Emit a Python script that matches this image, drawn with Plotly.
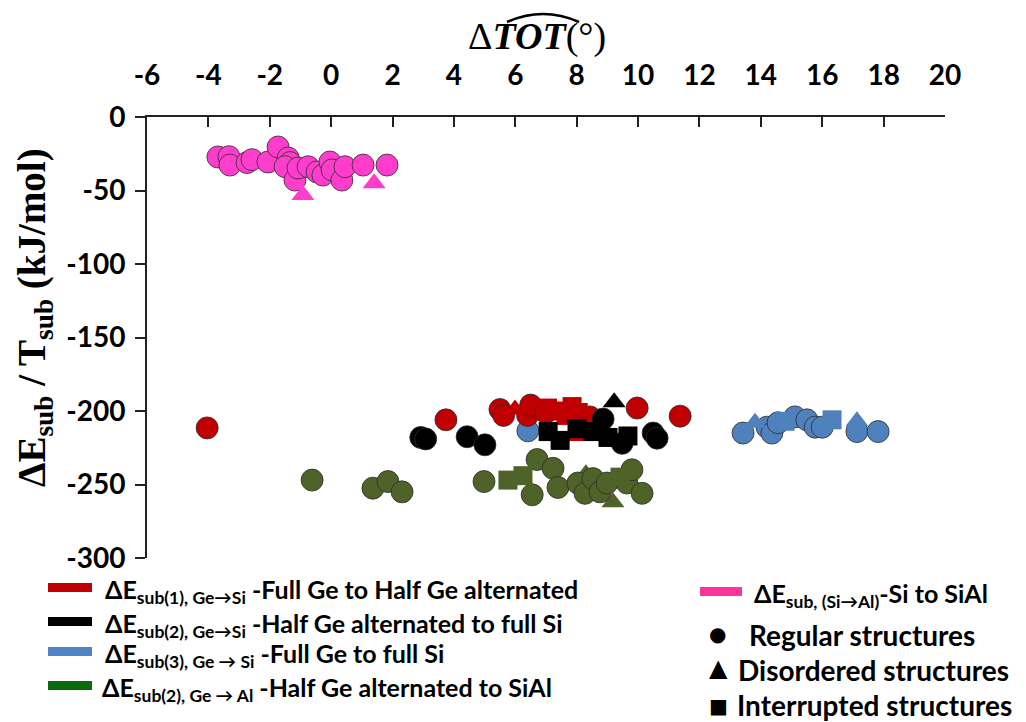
import plotly.graph_objects as go

# ---------------- data ----------------
x_ticks = [-6, -4, -2, 0, 2, 4, 6, 8, 10, 12, 14, 16, 18, 20]
y_ticks = [0, -50, -100, -150, -200, -250, -300]

# Full Ge -> Half Ge alternated (red)
red_circle_x = [-4.04, 3.74, 5.50, 5.62, 6.40, 6.50, 7.00, 8.43, 9.97, 11.37]
red_circle_y = [-211.5, -206, -199, -203, -203, -196, -201, -204, -198, -203.5]
red_square_x = [7.05, 7.40, 7.85, 7.65, 8.05]
red_square_y = [-198, -200, -197, -203, -201]
red_tri_x = [5.99, 7.95]
red_tri_y = [-199, -217]

# Half Ge alternated -> full Si (black)
blk_circle_x = [2.92, 3.08, 4.43, 5.01, 8.86, 9.48, 10.49, 10.62]
blk_circle_y = [-218, -219, -217.5, -223, -205.5, -222, -215, -218.5]
blk_square_x = [7.07, 7.46, 8.01, 8.53, 9.02, 9.67]
blk_square_y = [-214, -220, -212, -214, -218, -217]
blk_tri_x = [9.22]
blk_tri_y = [-194]

# Full Ge -> full Si (blue)
blu_circle_x = [6.41, 13.42, 14.20, 14.36, 14.56, 15.11, 15.50, 15.77, 16.00, 17.13, 17.82]
blu_circle_y = [-213.5, -215, -211, -215, -208, -204, -206, -211, -211, -214, -214]
blu_square_x = [14.79, 16.32]
blu_square_y = [-207, -206]
blu_tri_x = [13.81, 17.13]
blu_tri_y = [-208, -207]

# Half Ge alternated -> SiAl (green)
grn_circle_x = [-0.62, 1.36, 1.85, 2.31, 4.98, 6.55, 6.71, 7.23, 7.39, 8.04, 8.27,
                8.53, 8.76, 8.99, 9.64, 9.80, 10.13]
grn_circle_y = [-247, -252.5, -248, -255, -248, -257, -233, -239, -252, -249, -256,
                -246, -255, -249, -249, -240, -256]
grn_square_x = [5.76, 6.25, 9.41]
grn_square_y = [-247, -244, -245]
grn_tri_x = [8.30, 9.18]
grn_tri_y = [-243, -262]

# Si -> SiAl (pink)
pnk_circle_x = [-3.69, -3.33, -3.30, -2.74, -2.58, -2.06, -1.73, -1.40, -1.34, -1.50,
                -1.18, -1.08, -0.75, -0.46, -0.27, -0.04, 0.03, 0.35, 0.45, 1.04, 1.82]
pnk_circle_y = [-27.2, -27, -32.7, -31, -29, -30.6, -20.4, -27.9, -31, -33.8,
                -42.9, -34.7, -33.8, -37.4, -39.5, -30.6, -36, -42.9, -33.8, -32.7, -32.7]
pnk_tri_x = [-0.92, 1.40]
pnk_tri_y = [-53, -45]

# ---------------- styles ----------------
RED = "#C00000"
BLACK = "#000000"
BLUE = "#4F81BD"
GREEN = "#4F6228"
PINK = "#FF3DCC"

FIG_W, FIG_H = 1026, 722
L, R, T, B = 147, 81, 117, 164
PW, PH = FIG_W - L - R, FIG_H - T - B


def px(x):
    return (x - L) / PW


def py(y):
    return (FIG_H - B - y) / PH


fig = go.Figure()


def add(xs, ys, color, symbol, size, outline=True):
    fig.add_trace(go.Scatter(
        x=xs, y=ys, mode="markers", showlegend=False, hoverinfo="skip",
        marker=dict(symbol=symbol, size=size, color=color,
                    line=dict(width=1 if outline else 0, color="rgba(45,45,45,0.8)")),
    ))


# drawing order
add(blu_circle_x, blu_circle_y, BLUE, "circle", 22)
add(blu_square_x, blu_square_y, BLUE, "square", 19, False)
add(blu_tri_x, blu_tri_y, BLUE, "triangle-up", 20, False)
add(red_circle_x, red_circle_y, RED, "circle", 22)
add(red_tri_x, red_tri_y, RED, "triangle-up", 20, False)
add(red_square_x, red_square_y, RED, "square", 19, False)
add(blk_circle_x, blk_circle_y, BLACK, "circle", 22)
add(blk_tri_x, blk_tri_y, BLACK, "triangle-up", 20, False)
add(blk_square_x, blk_square_y, BLACK, "square", 19, False)
add(grn_tri_x, grn_tri_y, GREEN, "triangle-up", 20, False)
add(grn_circle_x, grn_circle_y, GREEN, "circle", 22)
add(grn_square_x, grn_square_y, GREEN, "square", 19, False)
add(pnk_circle_x, pnk_circle_y, PINK, "circle", 22)
add(pnk_tri_x, pnk_tri_y, PINK, "triangle-up", 20, False)

TICKFONT = dict(family="Lato", size=28, color="black", weight="bold")

fig.update_layout(
    width=FIG_W, height=FIG_H, autosize=False,
    margin=dict(l=L, r=R, t=T, b=B, pad=0),
    paper_bgcolor="white", plot_bgcolor="white",
    xaxis=dict(range=[-6, 20], tickvals=x_ticks, ticktext=[str(v) for v in x_ticks],
               side="top", ticks="inside", ticklen=10, tickwidth=2, tickcolor="#222",
               showline=True, linewidth=2, linecolor="#222", showgrid=False,
               zeroline=False, tickfont=TICKFONT, ticklabelstandoff=19),
    yaxis=dict(range=[-300, 0], tickvals=y_ticks, ticktext=[str(v) for v in y_ticks],
               ticks="outside", ticklen=10, tickwidth=2, tickcolor="#222",
               showline=True, linewidth=2, linecolor="#222", showgrid=False,
               zeroline=False, tickfont=TICKFONT, ticklabelstandoff=4),
)

LEG = dict(family="Lato", size=25, color="black", weight="bold")
LEG_R = dict(family="Lato", size=28, color="black", weight="bold")
annots = []
shapes = []

# x-axis title with a wide hat over TOT
annots.append(dict(x=px(537), y=py(36), xref="paper", yref="paper", showarrow=False,
                   xanchor="center", yanchor="middle",
                   text="Δ<b><i>TOT</i></b>(°)",
                   font=dict(family="Liberation Serif", size=38, color="black")))
shapes.append(dict(type="path", xref="paper", yref="paper",
                   path=f"M {px(507)},{py(22)} Q {px(543)},{py(6)} {px(579)},{py(22)}",
                   line=dict(color="black", width=2.5)))

# y-axis title
annots.append(dict(x=px(34), y=py(318), xref="paper", yref="paper", showarrow=False,
                   xanchor="center", yanchor="middle", textangle=-90,
                   text="<b>ΔE<sub>sub</sub> / T<sub>sub</sub> (kJ/mol)</b>",
                   font=dict(family="Liberation Serif", size=39, color="black")))

# legend (left column)
left_items = [
    (RED, 587, "ΔE<sub>sub(1), Ge→Si</sub> -Full Ge to Half Ge alternated", 103),
    (BLACK, 621, "ΔE<sub>sub(2), Ge→Si</sub> -Half Ge alternated to full Si", 103),
    ("#4F85C5", 651, "ΔE<sub>sub(3), Ge → Si</sub> -Full Ge to full Si", 103),
    ("#0B6A0B", 685, "ΔE<sub>sub(2), Ge → Al</sub> -Half Ge alternated to SiAl", 100),
]
for col, yc, txt, xt in left_items:
    shapes.append(dict(type="rect", xref="paper", yref="paper",
                       x0=px(48), x1=px(92), y0=py(yc - 4), y1=py(yc + 5),
                       fillcolor=col, line=dict(width=0)))
    annots.append(dict(x=px(xt), y=py(yc + 4), xref="paper", yref="paper", showarrow=False,
                       xanchor="left", yanchor="middle", text=txt, font=LEG))

# legend (right column)
shapes.append(dict(type="rect", xref="paper", yref="paper",
                   x0=px(700), x1=px(742), y0=py(587), y1=py(596),
                   fillcolor="#FF3399", line=dict(width=0)))
annots.append(dict(x=px(752), y=py(595), xref="paper", yref="paper", showarrow=False,
                   xanchor="left", yanchor="middle",
                   text="ΔE<sub>sub, (Si→Al)</sub>-Si to SiAl",
                   font=dict(family="Lato", size=25, color="black", weight="bold")))
right_symbols = [
    (717, 634, "●", 20),
    (718, 668, "▲", 24),
    (718, 706, "■", 20),
]
for xs, yc, sym, sz in right_symbols:
    annots.append(dict(x=px(xs), y=py(yc), xref="paper", yref="paper", showarrow=False,
                       xanchor="center", yanchor="middle", text=sym,
                       font=dict(family="DejaVu Sans", size=sz, color="black")))
right_items = [
    (747, 635, "Regular structures"),
    (736, 670, "Disordered structures"),
    (735, 705, "Interrupted structures"),
]
for xt, yc, txt in right_items:
    annots.append(dict(x=px(xt), y=py(yc), xref="paper", yref="paper", showarrow=False,
                       xanchor="left", yanchor="middle", text=txt, font=LEG_R))

fig.update_layout(annotations=annots, shapes=shapes)

fig.write_html("out.html", config={"displayModeBar": False},
               post_script="document.body.style.margin='0';document.body.style.overflow='hidden';")
